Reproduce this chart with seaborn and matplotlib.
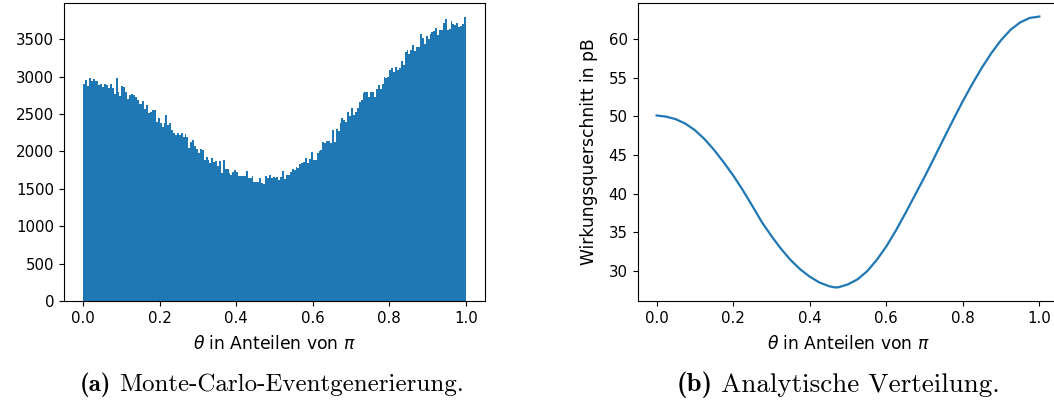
import numpy as np
import matplotlib
matplotlib.use("Agg")
import matplotlib.pyplot as plt
import seaborn as sns

# ---------------- data ----------------
# histogram: 200 bins on [0, 1] (theta in units of pi), counts
n_bins = 200
hist_counts = [
    2895, 2949, 2869, 2976, 2936, 2962, 2936, 2936, 2882, 2895,
    2855, 2895, 2882, 2842, 2895, 2842, 2761, 2976, 2788, 2735,
    2869, 2855, 2788, 2694, 2748, 2761, 2748, 2721, 2681, 2627,
    2627, 2667, 2560, 2614, 2507, 2520, 2547, 2547, 2399, 2453,
    2386, 2332, 2386, 2493, 2359, 2373, 2290, 2252, 2225, 2252,
    2225, 2252, 2198, 2239, 2198, 2051, 2131, 2158, 2078, 2038,
    1984, 2038, 2024, 1890, 1930, 1890, 1850, 1917, 1863, 1877,
    1810, 1877, 1716, 1890, 1769, 1769, 1716, 1689, 1729, 1756,
    1729, 1676, 1676, 1676, 1676, 1743, 1649, 1649, 1676, 1595,
    1595, 1595, 1649, 1582, 1568, 1676, 1649, 1689, 1649, 1662,
    1649, 1662, 1622, 1662, 1743, 1635, 1689, 1689, 1729, 1769,
    1756, 1796, 1783, 1836, 1850, 1863, 1917, 1850, 1904, 1997,
    1890, 1890, 1984, 2011, 2024, 2131, 2118, 2145, 2145, 2118,
    2292, 2131, 2306, 2279, 2386, 2440, 2413, 2399, 2520, 2467,
    2574, 2480, 2520, 2574, 2654, 2681, 2775, 2788, 2788, 2721,
    2788, 2788, 2721, 2828, 2882, 2828, 2895, 2989, 2976, 2989,
    3083, 3110, 3056, 3123, 3083, 3110, 3204, 3150, 3324, 3351,
    3298, 3351, 3418, 3338, 3391, 3391, 3566, 3512, 3432, 3539,
    3499, 3566, 3592, 3606, 3646, 3552, 3619, 3619, 3713, 3767,
    3619, 3633, 3740, 3700, 3686, 3713, 3660, 3673, 3700, 3794,
]

# analytic cross section
theta_line = [0.000, 0.025, 0.050, 0.075, 0.100, 0.125, 0.150, 0.175, 0.200,
              0.225, 0.250, 0.275, 0.300, 0.325, 0.350, 0.375, 0.400, 0.425,
              0.450, 0.466, 0.475, 0.500, 0.525, 0.550, 0.575, 0.600, 0.625,
              0.650, 0.675, 0.700, 0.725, 0.750, 0.775, 0.800, 0.825, 0.850,
              0.875, 0.900, 0.925, 0.950, 0.975, 1.000]
sigma_line = [50.10, 49.95, 49.62, 49.05, 48.20, 47.05, 45.65, 44.05, 42.35,
              40.45, 38.40, 36.30, 34.50, 32.85, 31.40, 30.20, 29.25, 28.50,
              28.02, 27.85, 27.87, 28.25, 28.90, 29.95, 31.40, 33.15, 35.20,
              37.45, 39.80, 42.15, 44.60, 47.10, 49.55, 51.95, 54.20, 56.30,
              58.20, 59.85, 61.20, 62.15, 62.72, 62.90]

xlabel = r"$\theta$ in Anteilen von $\pi$"
ylabel_b = "Wirkungsquerschnitt in pB"
caption_a = ("(a)", "Monte-Carlo-Eventgenerierung.")
caption_b = ("(b)", "Analytische Verteilung.")

# ---------------- figure ----------------
W, H = 1054, 407
fig = plt.figure(figsize=(W / 100, H / 100), dpi=100)
fs = 10.8
lfs = 12.3
blue = "#1f77b4"


def px_axes(x0, y0, x1, y1):
    return fig.add_axes([x0 / W, 1 - y1 / H, (x1 - x0) / W, (y1 - y0) / H])


ax1 = px_axes(64, 3, 485, 301)
ax2 = px_axes(637.5, 3, 1058.5, 301)

bin_centers = (np.arange(n_bins) + 0.5) / n_bins
sns.histplot(x=bin_centers, weights=hist_counts, bins=n_bins, binrange=(0, 1),
             ax=ax1, color=blue, alpha=1, edgecolor="none", linewidth=0)
ax1.set_xlim(-0.05, 1.05)
ax1.set_ylim(0, max(hist_counts) * 1.05)
ax1.set_yticks(np.arange(0, 3501, 500))
ax1.set_xticks(np.arange(0, 1.01, 0.2))
ax1.set_ylabel("")
ax1.set_xlabel(xlabel, fontsize=lfs, labelpad=7)

sns.lineplot(x=theta_line, y=sigma_line, ax=ax2, color=blue, linewidth=1.6)
ax2.set_xlim(-0.05, 1.05)
rng = max(sigma_line) - min(sigma_line)
ax2.set_ylim(min(sigma_line) - 0.05 * rng, max(sigma_line) + 0.05 * rng)
ax2.set_xticks(np.arange(0, 1.01, 0.2))
ax2.set_xlabel(xlabel, fontsize=lfs, labelpad=7)
ax2.set_ylabel(ylabel_b, fontsize=lfs, labelpad=8)

for ax in (ax1, ax2):
    ax.tick_params(labelsize=fs)
    for s in ax.spines.values():
        s.set_linewidth(0.8)


# captions, centred under each panel
def caption(parts, xc, size):
    bold, rest = parts
    t1 = fig.text(0, 0, bold, fontfamily="cmb10", fontsize=size, va="center", ha="left")
    t2 = fig.text(0, 0, rest, fontfamily="cmr10", fontsize=size, va="center", ha="left")
    fig.canvas.draw()
    w1 = t1.get_window_extent().width
    w2 = t2.get_window_extent().width
    gap = 0.45 * size
    x0 = xc - (w1 + gap + w2) / 2
    y = 1 - 385 / H
    t1.set_position((x0 / W, y))
    t2.set_position(((x0 + w1 + gap) / W, y))


caption(caption_a, 271.5, 18)
caption(caption_b, 838, 19.5)

fig.savefig("out.png", dpi=100)
